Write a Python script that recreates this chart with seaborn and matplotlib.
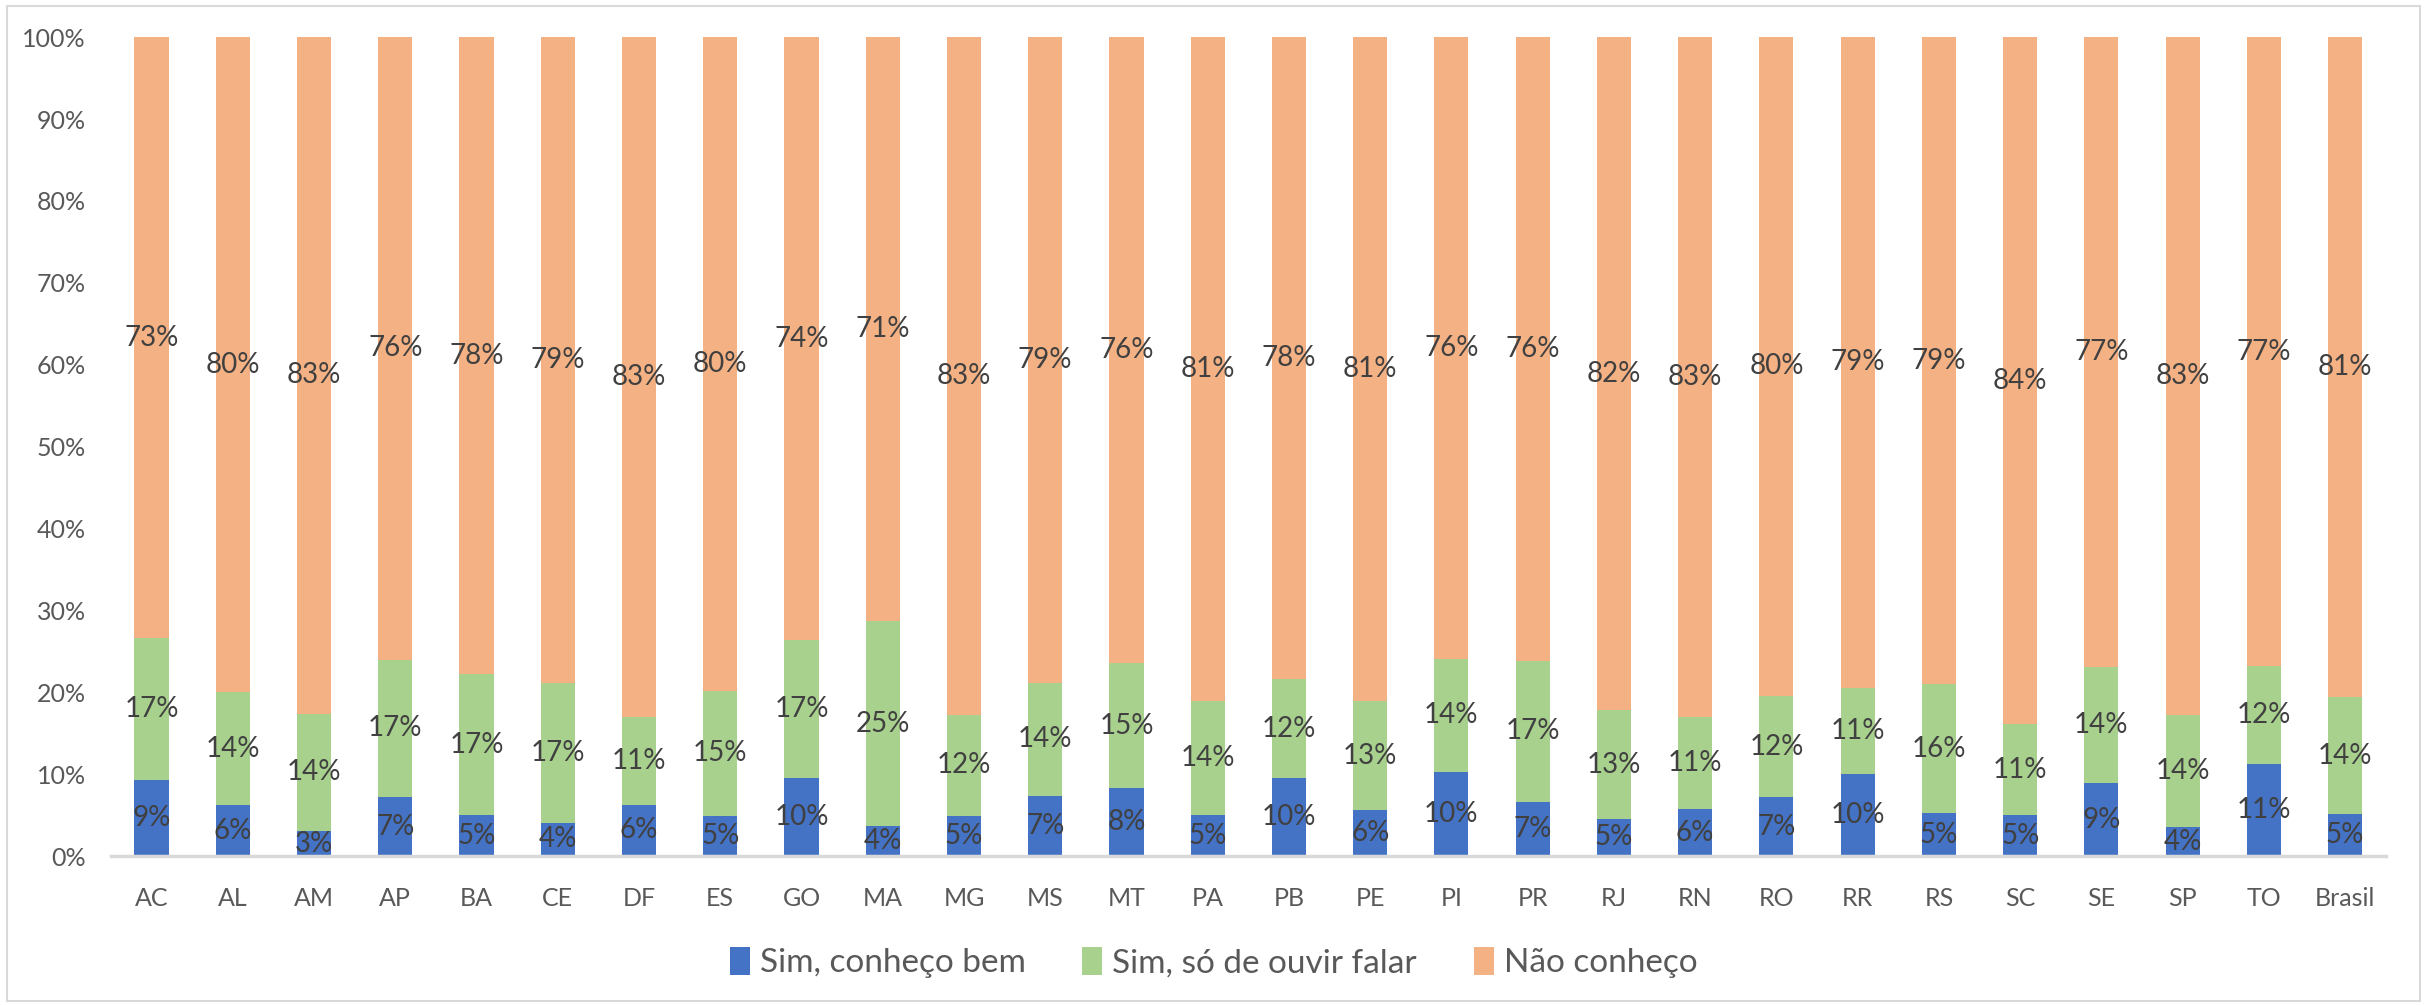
import numpy as np
import pandas as pd
import matplotlib.pyplot as plt
import seaborn as sns
from matplotlib.patches import Rectangle, Patch

estados = ['AC', 'AL', 'AM', 'AP', 'BA', 'CE', 'DF', 'ES', 'GO', 'MA', 'MG', 'MS', 'MT', 'PA',
           'PB', 'PE', 'PI', 'PR', 'RJ', 'RN', 'RO', 'RR', 'RS', 'SC', 'SE', 'SP', 'TO', 'Brasil']
conheco_bem = [9.3, 6.2, 3.1, 7.2, 5.0, 4.1, 6.3, 4.9, 9.5, 3.7, 4.9, 7.4, 8.3, 5.0,
               9.5, 5.6, 10.3, 6.6, 4.6, 5.8, 7.2, 10.0, 5.3, 5.0, 8.9, 3.6, 11.3, 5.1]
ouvir_falar = [17.3, 13.8, 14.3, 16.8, 17.2, 17.0, 10.7, 15.3, 16.9, 25.0, 12.4, 13.8, 15.3, 13.9,
               12.1, 13.4, 13.8, 17.3, 13.2, 11.2, 12.4, 10.6, 15.7, 11.1, 14.2, 13.6, 11.9, 14.3]
nao_conheco = [73.4, 80.0, 82.6, 76.0, 77.8, 78.9, 83.0, 79.8, 73.6, 71.3, 82.7, 78.8, 76.4, 81.1,
               78.4, 81.0, 75.9, 76.1, 82.2, 83.0, 80.4, 79.4, 79.0, 83.9, 76.9, 82.8, 76.8, 80.6]

series = ['Sim, conheço bem', 'Sim, só de ouvir falar', 'Não conheço']
cores = ['#4472C4', '#A9D18E', '#F4B183']

sns.set_theme(style="white")
plt.rcParams['font.family'] = ['Lato', 'DejaVu Sans']

df = pd.DataFrame({'estado': estados, 'bem': conheco_bem, 'ouvir': ouvir_falar, 'nao': nao_conheco})
# stacked by drawing cumulative totals, largest first
df['c1'] = df['bem']
df['c2'] = df['bem'] + df['ouvir']
df['c3'] = df['c2'] + df['nao']

fig = plt.figure(figsize=(24.27, 10.05), dpi=100)
ax = fig.add_axes([0.0457, 0.148, 0.9373, 0.815])

for col, cor in zip(['c3', 'c2', 'c1'], cores[::-1]):
    sns.barplot(data=df, x='estado', y=col, color=cor, width=0.42, errorbar=None,
                saturation=1, ax=ax, linewidth=0)

# data labels in the middle of each segment
for i in range(len(estados)):
    base = 0
    for v in (conheco_bem[i], ouvir_falar[i], nao_conheco[i]):
        ax.text(i, base + v / 2, f"{v:.0f}%", ha='center', va='center',
                fontsize=20, color='#404040')
        base += v

ax.set_ylim(0, 100)
ax.set_xlim(-0.5, len(estados) - 0.5)
ax.set_yticks(np.arange(0, 101, 10))
ax.set_yticklabels([f"{t}%" for t in range(0, 101, 10)])
ax.set_xlabel('')
ax.set_ylabel('')
ax.tick_params(axis='both', length=0, labelsize=18, labelcolor='#595959')
ax.tick_params(axis='y', pad=18)
ax.tick_params(axis='x', pad=22)
for s in ['top', 'right', 'left']:
    ax.spines[s].set_visible(False)
ax.spines['bottom'].set_color('#D9D9D9')
ax.spines['bottom'].set_linewidth(2.5)

handles = [Patch(facecolor=c, edgecolor='none') for c in cores]
fig.legend(handles, series, loc='center', bbox_to_anchor=(0.5, 0.042), ncol=3, frameon=False,
           fontsize=24, handlelength=0.6, handleheight=0.9, columnspacing=1.7,
           handletextpad=0.3, labelcolor='#595959')

fig.patches.append(Rectangle((0.003, 0.004), 0.994, 0.99, transform=fig.transFigure,
                             fill=False, edgecolor='#D9D9D9', linewidth=1.5))

plt.savefig('out.png', dpi=100)
